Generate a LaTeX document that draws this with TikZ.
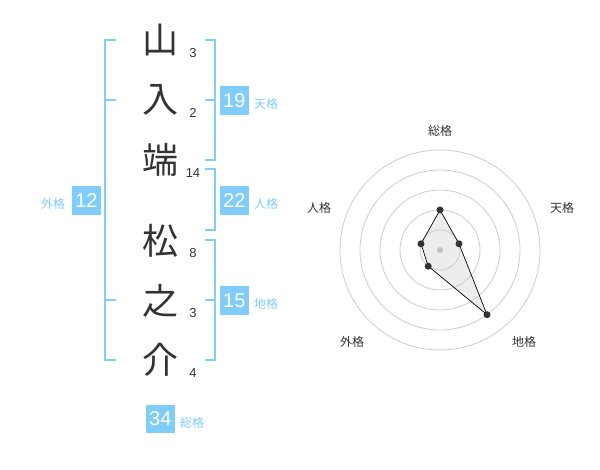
\documentclass[tikz,border=0pt]{standalone}
\usepackage{fontspec}
\setmainfont{Liberation Sans}
\newfontfamily\jp{Noto Sans CJK JP}
\definecolor{kblue}{RGB}{128,204,250}
\definecolor{ktext}{RGB}{51,51,51}
\definecolor{kring}{RGB}{204,204,204}
\tikzset{
  bigchar/.style={font=\jp\fontsize{36}{36}\selectfont, text=ktext, inner sep=0pt},
  strokes/.style={font=\fontsize{13}{13}\selectfont, text=ktext, inner sep=0pt},
  valbox/.style={fill=kblue, text=white, minimum width=28.5pt, minimum height=28.5pt, inner sep=0pt, font=\fontsize{20}{20}\selectfont},
  kaku/.style={font=\jp\fontsize{12}{12}\selectfont, text=kblue, inner sep=0pt},
  bracket/.style={draw=kblue, line width=2pt},
  ring/.style={draw=kring, line width=0.8pt},
  axlabel/.style={font=\jp\fontsize{12}{12}\selectfont, text=ktext, inner sep=0pt},
  vdot/.style={circle, fill=ktext, minimum size=7pt, inner sep=0pt},
}
\begin{document}
\begin{tikzpicture}[x={(1pt,0)}, y={(0,-1pt)}]
\useasboundingbox (0,0) rectangle (600,470);
% name characters
\node[bigchar] (c1) at (160,40) {山};
\node[bigchar] (c2) at (160,100) {入};
\node[bigchar] (c3) at (160,160) {端};
\node[bigchar] (c4) at (160,241) {松};
\node[bigchar] (c5) at (160,301) {之};
\node[bigchar] (c6) at (160,360) {介};
% stroke counts
\node[strokes] (n1) at (193,53) {3};
\node[strokes] (n2) at (193,113) {2};
\node[strokes] (n3) at (193,173) {14};
\node[strokes] (n4) at (193,253) {8};
\node[strokes] (n5) at (193,313) {3};
\node[strokes] (n6) at (193,373) {4};
% brackets
\draw[bracket] (116,40) -- (105,40) -- (105,360) -- (116,360);
\draw[bracket] (105,100) -- (116,100);
\draw[bracket] (105,300) -- (116,300);
\draw[bracket] (205,40) -- (215,40) -- (215,160) -- (205,160);
\draw[bracket] (205,100) -- (215,100);
\draw[bracket] (205,169) -- (215,169) -- (215,230) -- (205,230);
\draw[bracket] (205,240) -- (215,240) -- (215,360) -- (205,360);
\draw[bracket] (205,300) -- (215,300);
% value boxes
\node[valbox] (ten) at (234.3,100.3) {19};
\node[kaku] (tenl) at (266,104) {天格};
\node[valbox] (jin) at (234.3,200.3) {22};
\node[kaku] (jinl) at (266,204) {人格};
\node[valbox] (chi) at (234.3,300.3) {15};
\node[kaku] (chil) at (266,304) {地格};
\node[valbox] (gai) at (86.5,200.3) {12};
\node[kaku] (gail) at (53,204) {外格};
\node[valbox] (sou) at (160.3,419) {34};
\node[kaku] (soul) at (192,423) {総格};
% radar
\foreach \r in {20,40,60,80,100} \draw[ring] (440,250) circle[radius=\r pt];
\coordinate (ps) at (440,210);
\coordinate (pt) at (459.0,243.8);
\coordinate (pc) at (487.0,314.7);
\coordinate (pg) at (428.2,266.2);
\coordinate (pj) at (421.0,243.8);
\fill[black!20, opacity=0.35] (ps) -- (pt) -- (pc) -- (pg) -- (pj) -- cycle;
\draw[black, line width=0.7pt] (ps) -- (pt) -- (pc) -- (pg) -- (pj) -- cycle;
\node[circle, fill=black!25, minimum size=6pt, inner sep=0pt] (ctr) at (440,250) {};
\foreach \p in {ps,pt,pc,pg,pj} \node[vdot] at (\p) {};
\node[axlabel] (ls) at (440,131) {総格};
\node[axlabel] (lt) at (562,208) {天格};
\node[axlabel] (lc) at (524,342) {地格};
\node[axlabel] (lg) at (352,342) {外格};
\node[axlabel] (lj) at (319,208) {人格};
\end{tikzpicture}
\end{document}
